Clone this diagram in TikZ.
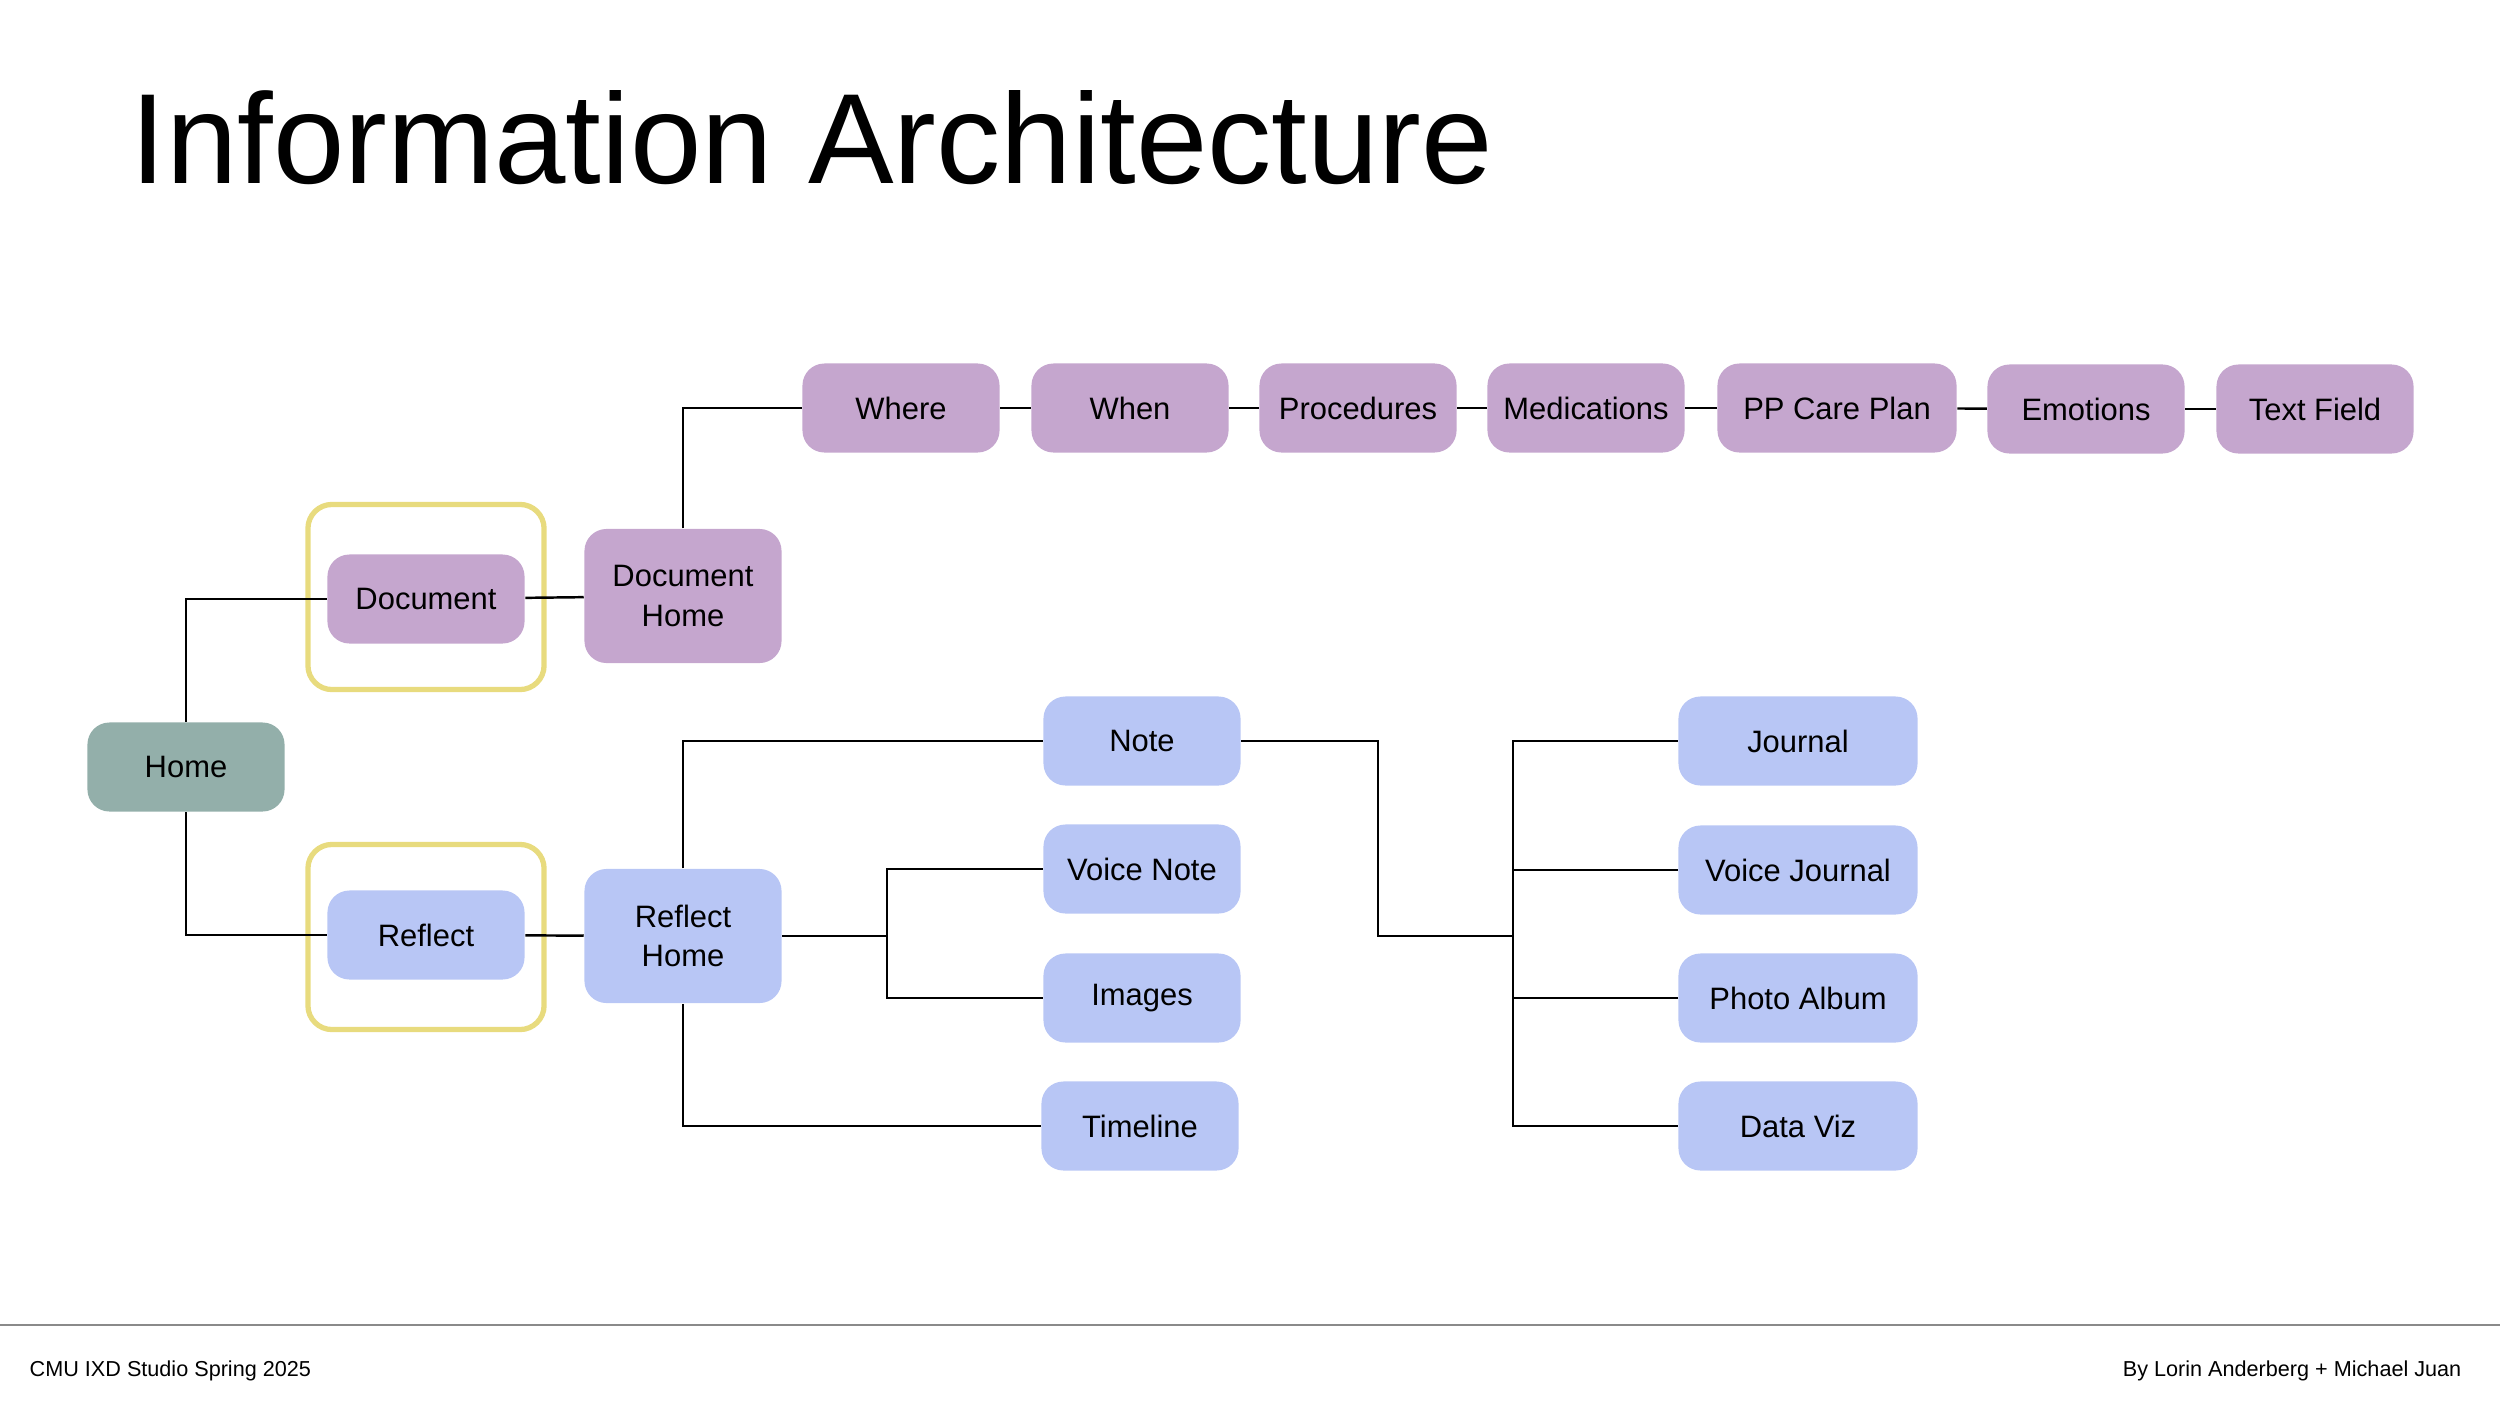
\documentclass[tikz,border=0pt]{standalone}
\usepackage{fontspec}
\setmainfont{Liberation Sans}
\definecolor{docpurple}{HTML}{C5A6CE}
\definecolor{refblue}{HTML}{B8C6F5}
\definecolor{homegreen}{HTML}{93AFAA}
\definecolor{frameyellow}{HTML}{E8DB7E}
\definecolor{rulegray}{HTML}{8A8A8A}
\tikzset{
  box/.style={rounded corners=0.22cm, minimum height=0.89cm, minimum width=1.97cm, inner sep=0pt, align=center, font=\fontsize{8.8}{11.3}\selectfont},
  widebox/.style={box, minimum width=2.39cm},
  tallbox/.style={box, minimum height=1.34cm},
  docbox/.style={fill=docpurple},
  refbox/.style={fill=refblue},
  frame/.style={draw=frameyellow, line width=1.5pt, rounded corners=0.24cm, minimum width=2.36cm, minimum height=1.85cm},
  link/.style={draw=black, line width=0.7pt},
  footnote/.style={inner sep=0pt, font=\fontsize{6.15}{8}\selectfont}
}
\begin{document}
\begin{tikzpicture}[x=0.01cm,y=-0.01cm]
\useasboundingbox (0,0) rectangle (2500,1406);
\node[anchor=base west, inner sep=0pt, font=\fontsize{36.5}{40}\selectfont] (title) at (130,183) {Information Architecture};
\node[frame] (docframe) at (426,597) {};
\node[frame] (refframe) at (426,937) {};
\node[box, fill=homegreen] (home) at (186,767) {Home};
\node[box, docbox] (doc) at (426,599) {Document};
\node[box, refbox] (reflect) at (426,935) {Reflect};
\node[tallbox, docbox] (dochome) at (683,596) {Document\\Home};
\node[tallbox, refbox] (refhome) at (683,936) {Reflect\\Home};
% document row
\node[box, docbox] (where) at (901,408) {Where};
\node[box, docbox] (when) at (1130,408) {When};
\node[box, docbox] (proc) at (1358,408) {Procedures};
\node[box, docbox] (meds) at (1586,408) {Medications};
\node[widebox, docbox] (careplan) at (1837,408) {PP Care Plan};
\node[box, docbox] (emotions) at (2086,409) {Emotions};
\node[box, docbox] (textfield) at (2315,409) {Text Field};
% reflect column
\node[box, refbox] (note) at (1142,741) {Note};
\node[box, refbox] (vnote) at (1142,869) {Voice Note};
\node[box, refbox] (images) at (1142,998) {Images};
\node[box, refbox] (timeline) at (1140,1126) {Timeline};
\node[widebox, refbox] (journal) at (1798,741) {Journal};
\node[widebox, refbox] (vjournal) at (1798,870) {Voice Journal};
\node[widebox, refbox] (photo) at (1798,998) {Photo Album};
\node[widebox, refbox] (dataviz) at (1798,1126) {Data Viz};
\coordinate (rb) at (887,936);
\coordinate (nb) at (1378,936);
\coordinate (jb) at (1513,936);
\draw[link] (home) |- (doc);
\draw[link] (home) |- (reflect);
\draw[link] (doc) -- (dochome);
\draw[link] (reflect) -- (refhome);
\draw[link] (dochome) |- (where);
\foreach \a/\b in {where/when, when/proc, proc/meds, meds/careplan, careplan/emotions, emotions/textfield}
  \draw[link] (\a) -- (\b);
\draw[link] (refhome) |- (note);
\draw[link] (refhome) |- (timeline);
\draw[link] (refhome) -- (rb);
\draw[link] (vnote) -| (rb) |- (images);
\draw[link] (note) -| (nb) -- (jb);
\draw[link] (journal) -| (jb) |- (dataviz);
\draw[link] (jb) |- (vjournal);
\draw[link] (jb) |- (photo);
% footer
\coordinate (ruleL) at (0,1325);
\coordinate (ruleR) at (2500,1325);
\draw[rulegray, line width=0.6pt] (ruleL) -- (ruleR);
\node[footnote, anchor=base west] (course) at (29,1376) {CMU IXD Studio Spring 2025};
\node[footnote, anchor=base east] (authors) at (2462,1376) {By Lorin Anderberg + Michael Juan};
\end{tikzpicture}
\end{document}
